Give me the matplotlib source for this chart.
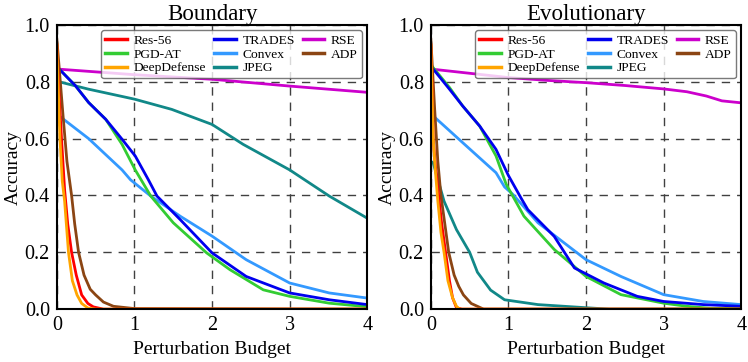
import numpy as np
import matplotlib.pyplot as plt

plt.rcParams['font.family'] = ['Liberation Serif', 'DejaVu Serif']

methods = ['Res-56', 'PGD-AT', 'DeepDefense', 'TRADES', 'Convex', 'JPEG', 'RSE', 'ADP']
colors = ['#ff0000', '#33cc33', '#ffa500', '#0000ee', '#3399ff', '#118888', '#cc00cc', '#8b4513']

# ---- Boundary attack: (budget, accuracy) per method ----
bd_res56_x = [0, 0.02, 0.06, 0.10, 0.14, 0.19, 0.25, 0.32, 0.40, 0.47, 0.6, 4]
bd_res56_y = [0.93, 0.80, 0.60, 0.42, 0.30, 0.20, 0.12, 0.05, 0.02, 0.008, 0.0, 0.0]
bd_pgd_x = [0, 0.03, 0.24, 0.41, 0.63, 0.84, 1.01, 1.21, 1.5, 1.93, 2.23, 2.66, 3.0, 3.51, 3.94, 4]
bd_pgd_y = [0.86, 0.845, 0.786, 0.727, 0.668, 0.58, 0.49, 0.398, 0.304, 0.198, 0.139, 0.068, 0.045, 0.021, 0.01, 0.008]
bd_dd_x = [0, 0.015, 0.04, 0.07, 0.10, 0.15, 0.20, 0.26, 0.32, 0.40, 0.5, 4]
bd_dd_y = [0.93, 0.80, 0.60, 0.45, 0.38, 0.20, 0.10, 0.05, 0.02, 0.004, 0.0, 0.0]
bd_trades_x = [0, 0.03, 0.24, 0.41, 0.63, 0.84, 1.01, 1.18, 1.29, 1.59, 2.0, 2.44, 3.0, 3.51, 4]
bd_trades_y = [0.85, 0.845, 0.786, 0.727, 0.668, 0.598, 0.539, 0.455, 0.398, 0.315, 0.198, 0.115, 0.057, 0.033, 0.016]
bd_convex_x = [0, 0.03, 0.41, 0.84, 0.95, 1.21, 1.59, 2.0, 2.44, 3.0, 3.51, 4]
bd_convex_y = [0.685, 0.68, 0.60, 0.49, 0.455, 0.398, 0.327, 0.257, 0.174, 0.092, 0.057, 0.039]
bd_jpeg_x = [0, 0.03, 0.41, 1.0, 1.48, 2.0, 2.4, 3.0, 3.51, 4]
bd_jpeg_y = [0.80, 0.80, 0.774, 0.739, 0.703, 0.65, 0.58, 0.49, 0.398, 0.32]
bd_rse_x = [0, 1, 2, 3, 4]
bd_rse_y = [0.845, 0.825, 0.809, 0.785, 0.763]
bd_adp_x = [0, 0.03, 0.08, 0.13, 0.19, 0.23, 0.28, 0.35, 0.43, 0.5, 0.6, 0.73, 1.0, 4]
bd_adp_y = [0.95, 0.85, 0.68, 0.52, 0.40, 0.30, 0.20, 0.12, 0.07, 0.05, 0.025, 0.01, 0.002, 0.0]

# ---- Evolutionary attack ----
ev_res56_x = [0, 0.015, 0.03, 0.06, 0.10, 0.14, 0.19, 0.24, 0.28, 0.33, 0.4, 4]
ev_res56_y = [0.93, 0.80, 0.60, 0.50, 0.40, 0.30, 0.20, 0.10, 0.04, 0.005, 0.0, 0.0]
ev_pgd_x = [0, 0.03, 0.24, 0.41, 0.63, 0.84, 0.97, 1.2, 1.59, 2.0, 2.45, 3.0, 3.3, 3.6, 4]
ev_pgd_y = [0.86, 0.85, 0.78, 0.715, 0.644, 0.539, 0.44, 0.327, 0.21, 0.115, 0.051, 0.021, 0.01, 0.003, 0.002]
ev_dd_x = [0, 0.012, 0.03, 0.06, 0.09, 0.13, 0.17, 0.22, 0.28, 0.33, 0.37, 4]
ev_dd_y = [0.93, 0.80, 0.60, 0.48, 0.38, 0.27, 0.20, 0.10, 0.04, 0.01, 0.0, 0.0]
ev_trades_x = [0, 0.03, 0.24, 0.41, 0.63, 0.84, 1.0, 1.16, 1.25, 1.59, 1.85, 2.23, 2.66, 3.0, 3.51, 4]
ev_trades_y = [0.85, 0.845, 0.774, 0.715, 0.644, 0.562, 0.47, 0.392, 0.35, 0.256, 0.145, 0.092, 0.045, 0.027, 0.016, 0.01]
ev_convex_x = [0, 0.03, 0.41, 0.84, 0.95, 1.06, 1.38, 2.0, 2.45, 3.0, 3.51, 4]
ev_convex_y = [0.685, 0.68, 0.586, 0.48, 0.43, 0.403, 0.304, 0.174, 0.115, 0.051, 0.027, 0.016]
ev_jpeg_x = [0, 0.03, 0.17, 0.33, 0.50, 0.60, 0.77, 0.95, 1.38, 2.0, 2.3, 4]
ev_jpeg_y = [0.52, 0.515, 0.38, 0.28, 0.20, 0.13, 0.067, 0.033, 0.016, 0.005, 0.0, 0.0]
ev_rse_x = [0, 0.5, 1.0, 1.5, 2.0, 2.5, 3.0, 3.3, 3.55, 3.75, 4]
ev_rse_y = [0.845, 0.83, 0.815, 0.805, 0.797, 0.787, 0.775, 0.765, 0.75, 0.733, 0.726]
ev_adp_x = [0, 0.02, 0.05, 0.09, 0.13, 0.18, 0.23, 0.3, 0.36, 0.42, 0.52, 0.68, 4]
ev_adp_y = [0.95, 0.85, 0.70, 0.52, 0.40, 0.30, 0.20, 0.12, 0.08, 0.05, 0.02, 0.0, 0.0]

boundary = [(bd_res56_x, bd_res56_y), (bd_pgd_x, bd_pgd_y), (bd_dd_x, bd_dd_y),
            (bd_trades_x, bd_trades_y), (bd_convex_x, bd_convex_y), (bd_jpeg_x, bd_jpeg_y),
            (bd_rse_x, bd_rse_y), (bd_adp_x, bd_adp_y)]
evolutionary = [(ev_res56_x, ev_res56_y), (ev_pgd_x, ev_pgd_y), (ev_dd_x, ev_dd_y),
                (ev_trades_x, ev_trades_y), (ev_convex_x, ev_convex_y), (ev_jpeg_x, ev_jpeg_y),
                (ev_rse_x, ev_rse_y), (ev_adp_x, ev_adp_y)]

fig = plt.figure(figsize=(7.48, 3.62), dpi=100)
ax1 = fig.add_axes([0.076, 0.146, 0.415, 0.785])
ax2 = fig.add_axes([0.576, 0.146, 0.415, 0.785])

# draw order: background lines first, legend order stays as methods
order = [6, 5, 4, 1, 3, 7, 0, 2]
for ax, data, title in [(ax1, boundary, 'Boundary'), (ax2, evolutionary, 'Evolutionary')]:
    handles = {}
    for i in order:
        x, y = data[i]
        h, = ax.plot(x, y, color=colors[i], lw=2, label=methods[i])
        handles[i] = h
    ax.set_xlim(0, 4)
    ax.set_ylim(0, 1.0)
    ax.set_xticks([0, 1, 2, 3, 4])
    ax.set_yticks([0.0, 0.2, 0.4, 0.6, 0.8, 1.0])
    ax.set_yticklabels(['0.0', '0.2', '0.4', '0.6', '0.8', '1.0'])
    ax.grid(True, color='0.25', linestyle=(0, (6, 5)), lw=1.0)
    ax.tick_params(length=0, labelsize=14.5, pad=5)
    for s in ax.spines.values():
        s.set_linewidth(1.5)
    ax.set_xlabel('Perturbation Budget', fontsize=14, labelpad=4)
    ax.set_ylabel('Accuracy', fontsize=14, labelpad=2)
    ax.set_title(title, fontsize=16.5, pad=3)
    leg = ax.legend([handles[i] for i in range(8)], methods, ncol=3, loc='upper right',
                    fontsize=9.7, handlelength=1.6, columnspacing=0.6, labelspacing=0.1,
                    borderpad=0.3, handletextpad=0.5, borderaxespad=0.4, fancybox=True)
    leg.get_frame().set_edgecolor('0.35')
    leg.get_frame().set_linewidth(1.0)
    for lh in leg.get_lines():
        lh.set_linewidth(2.5)

fig.savefig('out.png', dpi=100)
